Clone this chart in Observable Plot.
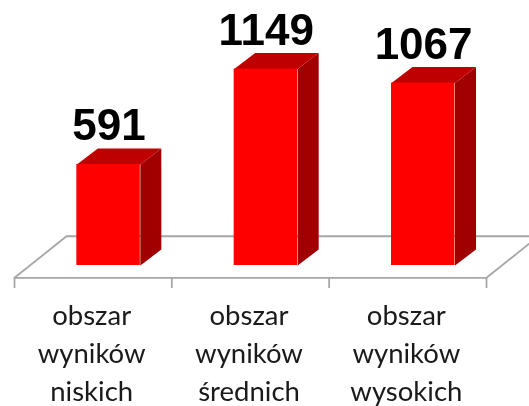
<!DOCTYPE html>
<html>
<head>
<meta charset="utf-8">
<script src="https://cdn.jsdelivr.net/npm/d3@7"></script>
<script src="https://cdn.jsdelivr.net/npm/@observablehq/plot@0.6"></script>
<style>html,body{margin:0;padding:0;background:#fff;overflow:hidden}svg{display:block;filter:blur(0.5px)}</style>
</head>
<body>
<div id="chart"></div>
<script>
const categories = ["obszar\nwyników\nniskich", "obszar\nwyników\nśrednich", "obszar\nwyników\nwysokich"];
const values = [591, 1149, 1067];
const tickPositions = [0, 1, 2, 3];

// oblique-projection settings, in scale units
const barCenter = 0.598, halfWidth = 0.2018, depthX = 0.1335, depthY = 93.6;
const floorFront = -72, floorBack = 171, floorDepthX = 0.3306, tickEnd = -135, labelY = -172;

const bars = values.map((v, i) => ({
  v, x1: i + barCenter - halfWidth, x2: i + barCenter + halfWidth
}));
const poly = (fn) => bars.flatMap((b, i) => fn(b).map(([x, y]) => ({x, y, i})));
const side = poly(b => [[b.x2, 0], [b.x2 + depthX, depthY], [b.x2 + depthX, b.v + depthY], [b.x2, b.v]]);
const top_ = poly(b => [[b.x1, b.v], [b.x1 + depthX, b.v + depthY], [b.x2 + depthX, b.v + depthY], [b.x2, b.v]]);
const floor = [[0, floorFront], [floorDepthX, floorBack], [3 + floorDepthX, floorBack], [3, floorFront], [0, floorFront]]
  .map(([x, y]) => ({x, y}));

const chart = Plot.plot({
  width: 529, height: 406,
  marginTop: 0, marginRight: 0, marginBottom: 0, marginLeft: 0,
  x: {type: "linear", domain: [0, 3], range: [14, 486], axis: null},
  y: {type: "linear", domain: [0, 1550], range: [265, 0], axis: null},
  style: {background: "#fff"},
  marks: [
    Plot.line(floor, {x: "x", y: "y", stroke: "#a6a6a6", strokeWidth: 1.8, curve: "linear"}),
    Plot.ruleX(tickPositions, {x: d => d, y1: floorFront, y2: tickEnd, stroke: "#a6a6a6", strokeWidth: 1.8}),
    Plot.line(side, {x: "x", y: "y", z: "i", fill: "#a00000", stroke: null, curve: "linear"}),
    Plot.line(top_, {x: "x", y: "y", z: "i", fill: "#bf0000", stroke: null, curve: "linear"}),
    Plot.rect(bars, {x1: "x1", x2: "x2", y1: 0, y2: "v", fill: "#ff0000"}),
    Plot.text(bars, {
      x: (d, i) => i + 0.6, y: "v", text: d => String(d.v),
      dy: -24, lineAnchor: "bottom", fontFamily: "Liberation Sans", fontWeight: 700, fontSize: 44, fill: "#000"
    }),
    Plot.text(categories, {
      x: (d, i) => i + 0.5, y: labelY, text: d => d,
      dx: -1.5, dy: 3, lineAnchor: "top", lineHeight: 1.39, fontFamily: "Lato", fontSize: 27.5, fill: "#1a1a1a"
    })
  ]
});
document.getElementById("chart").append(chart);
</script>
</body>
</html>
